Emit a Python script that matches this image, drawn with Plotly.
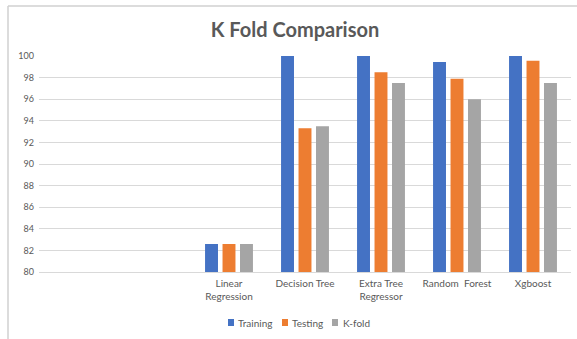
import plotly.graph_objects as go

categories = [" ", "  ", "Linear<br>Regression", "Decision Tree", "Extra Tree<br>Regressor", "Random  Forest", "Xgboost"]
training = [None, None, 82.6, 100.0, 100.0, 99.45, 100.0]
testing = [None, None, 82.6, 93.3, 98.5, 97.9, 99.57]
kfold = [None, None, 82.6, 93.5, 97.5, 96.0, 97.5]
series_names = ["Training", "Testing", "K-fold"]
series_colors = ["#4472C4", "#ED7D31", "#A5A5A5"]
y_ticks = list(range(80, 101, 2))

W, H = 577, 339
L, R, T, B = 39, 6, 56, 67
pw, ph = W - L - R, H - T - B

def px_x(x):
    return (x - L) / pw

def px_y(y):
    return (H - B - y) / ph

font_family = "Lato, 'Open Sans', sans-serif"
grey = "#595959"

fig = go.Figure()
for name, vals, col in zip(series_names, [training, testing, kfold], series_colors):
    fig.add_trace(go.Bar(x=categories, y=vals, name=name, marker=dict(color=col, line=dict(width=0))))

shapes = [
    dict(type="line", xref="paper", yref="paper", x0=px_x(8), x1=px_x(8), y0=px_y(339), y1=px_y(6),
         line=dict(color="#D0D0D0", width=1.5)),
    dict(type="line", xref="paper", yref="paper", x0=px_x(8), x1=px_x(577), y0=px_y(6), y1=px_y(6),
         line=dict(color="#D0D0D0", width=1.5)),
]
annotations = []
leg_sq = [228, 282, 332]
leg_tx = [236, 290, 341]
for i, (name, col) in enumerate(zip(series_names, series_colors)):
    shapes.append(dict(type="rect", xref="paper", yref="paper",
                       x0=px_x(leg_sq[i]), x1=px_x(leg_sq[i] + 6),
                       y0=px_y(326), y1=px_y(319), fillcolor=col, line=dict(width=0)))
    annotations.append(dict(text=name, xref="paper", yref="paper", x=px_x(leg_tx[i]), y=px_y(322.5),
                            xanchor="left", yanchor="middle", showarrow=False,
                            font=dict(family=font_family, size=10, color=grey)))

fig.update_layout(
    width=W, height=H,
    margin=dict(l=L, r=R, t=T, b=B),
    paper_bgcolor="white", plot_bgcolor="white",
    title=dict(text="<b>K Fold Comparison</b>", x=295 / W, xanchor="center",
               y=1 - 30 / H, yanchor="middle",
               font=dict(family=font_family, size=20, color=grey)),
    showlegend=False,
    barmode="group", bargap=0.31, bargroupgap=0.26,
    shapes=shapes, annotations=annotations,
    font=dict(family=font_family, size=10, color=grey),
)
fig.update_yaxes(range=[80, 100], tickvals=y_ticks, showgrid=True, gridcolor="#D9D9D9", gridwidth=1,
                 zeroline=False, showline=False, ticks="", tickfont=dict(size=9, color=grey),
                 ticklabelstandoff=4)
fig.update_xaxes(type="category", categoryorder="array", categoryarray=categories,
                 showline=True, linecolor="#D9D9D9", linewidth=1, ticks="",
                 tickfont=dict(size=10, color=grey), ticklabelstandoff=2)

fig.write_html("out.html", config={"displayModeBar": False},
               post_script="document.body.style.margin='0';document.body.style.overflow='hidden';")
